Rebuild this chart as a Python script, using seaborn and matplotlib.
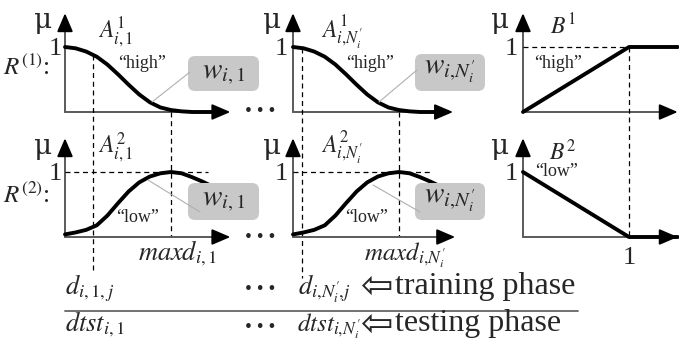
import matplotlib
matplotlib.use("Agg")
import matplotlib.pyplot as plt
import seaborn as sns
from matplotlib.patches import FancyBboxPatch

# membership functions (x in units of maxd, y = mu)
high_x = [0, 0.1, 0.2, 0.3, 0.4, 0.5, 0.6, 0.7, 0.8, 0.9, 1.0, 1.1, 1.2]
high_y = [1.0, 0.98, 0.93, 0.85, 0.73, 0.58, 0.42, 0.27, 0.15, 0.07, 0.03, 0.01, 0.0]
low_x = [0, 0.1, 0.2, 0.3, 0.4, 0.5, 0.6, 0.7, 0.8, 0.9, 1.0, 1.1, 1.2, 1.3, 1.4, 1.5]
low_y = [0.04, 0.07, 0.11, 0.18, 0.33, 0.52, 0.70, 0.84, 0.93, 0.98, 1.0, 0.98, 0.92, 0.85, 0.77, 0.70]
# output sets
b_x = [0, 1, 1.46]
b1_y = [0, 1, 1]
b2_y = [1, 0, 0]

sns.set_theme(style="white")
plt.rcParams["font.family"] = ["Liberation Serif", "DejaVu Sans"]
plt.rcParams["mathtext.fontset"] = "stix"

W, H = 679, 343
SX, SY = 106, 65
fig = plt.figure(figsize=(W / 100, H / 100), dpi=100)

AX_GRAY = "#5a5a5a"
DASH = dict(color="black", lw=0.9, ls=(0, (4, 3)), clip_on=False)


def panel(ox, oy, tip):
    x0, x1, y0, y1 = -0.6, 1.75, -0.6, 1.75
    left = (ox + x0 * SX) / W
    bottom = 1 - (oy - y0 * SY) / H
    ax = fig.add_axes([left, bottom, (x1 - x0) * SX / W, (y1 - y0) * SY / H])
    ax.set_xlim(x0, x1)
    ax.set_ylim(y0, y1)
    ax.patch.set_alpha(0)
    # axes with arrow heads
    ax.plot([0, tip - 0.1], [0, 0], color=AX_GRAY, lw=1.4, clip_on=False)
    ax.plot([0, 0], [0, 1.4], color=AX_GRAY, lw=1.4, clip_on=False)
    hs = dict(arrowstyle="-|>,head_length=0.7,head_width=0.3", color="black",
              lw=1.4, mutation_scale=16, shrinkA=0, shrinkB=0)
    ax.annotate("", xy=(tip, 0), xytext=(tip - 0.15, 0), arrowprops=hs)
    ax.annotate("", xy=(0, 1.52), xytext=(0, 1.3), arrowprops=hs)
    return ax


def draw_curve(ax, x, y):
    sns.lineplot(x=x, y=y, ax=ax, color="black", lw=2.8, estimator=None, sort=False)
    ax.axis("off")


# top row
ax1 = panel(65, 112, 1.56)
draw_curve(ax1, high_x + [1.5], high_y + [0.0])
ax1.plot([0.26, 0.26], [0.88, -2.48], **DASH)
ax1.plot([1.0, 1.0], [0.0, -1.92], **DASH)

ax2 = panel(293, 112, 1.51)
draw_curve(ax2, high_x + [1.45], high_y + [0.0])
ax2.plot([0.085, 0.085], [0.98, -2.55], **DASH)
ax2.plot([1.0, 1.0], [0.0, -1.92], **DASH)

ax3 = panel(523, 112, 1.46)
draw_curve(ax3, b_x, b1_y)
ax3.plot([0, 1], [1, 1], **DASH)
ax3.plot([1, 1], [1, -1.92], **DASH)

# bottom row
ax4 = panel(65, 237, 1.56)
draw_curve(ax4, low_x, low_y)
ax4.plot([0, 1.35], [1, 1], **DASH)

ax5 = panel(293, 237, 1.53)
draw_curve(ax5, low_x, low_y)
ax5.plot([0, 1.29], [1, 1], **DASH)

ax6 = panel(523, 237, 1.46)
draw_curve(ax6, b_x, b2_y)

# overlay in pixel coordinates for labels, weight boxes and the phase rows
ov = fig.add_axes([0, 0, 1, 1])
ov.set_xlim(0, W)
ov.set_ylim(H, 0)
ov.axis("off")
ov.patch.set_alpha(0)

for x, y in [(43, 21), (272, 21), (500, 21), (43, 146), (272, 146), (500, 146)]:
    ov.text(x, y, "μ", fontsize=20, ha="center", va="center", family="DejaVu Serif")
for x, y in [(55, 49), (281, 49), (511, 49), (55, 174), (281, 174), (511, 174), (629, 258)]:
    ov.text(x, y, "1", fontsize=19, ha="center", va="center")

ov.text(50, 75, r"$R^{(1)}$:", fontsize=18, ha="right", va="baseline")
ov.text(50, 203, r"$R^{(2)}$:", fontsize=18, ha="right", va="baseline")

ov.text(116, 33, r"$A^{1}_{i,1}$", fontsize=17, ha="center", va="center")
ov.text(342, 33, r"$A^{1}_{i,\!N_i^{\prime}}$", fontsize=17, ha="center", va="center")
ov.text(116, 148, r"$A^{2}_{i,1}$", fontsize=17, ha="center", va="center")
ov.text(342, 148, r"$A^{2}_{i,\!N_i^{\prime}}$", fontsize=17, ha="center", va="center")
ov.text(563, 27, r"$B^{1}$", fontsize=17, ha="center", va="center")
ov.text(563, 152, r"$B^{2}$", fontsize=17, ha="center", va="center")

for x, y, s in [(142, 63, "high"), (370, 63, "high"), (558, 63, "high"),
                (138, 218, "low"), (367, 218, "low"), (557, 172, "low")]:
    ov.text(x, y, "\u201c" + s + "\u201d", fontsize=13, ha="center", va="center")

# connectors then boxes
for xa, ya, xb, yb in [(152, 102, 190, 72), (379, 102, 417, 70),
                       (148, 180, 200, 212), (373, 185, 420, 212)]:
    ov.plot([xa, xb], [ya, yb], color="#b0b0b0", lw=0.8)

for x, y, w, h, lab in [(188, 56, 71, 35, r"$w_{i,1}$"),
                        (415, 54, 70, 37, r"$w_{i,\!N_i^{\prime}}$"),
                        (188, 183, 71, 37, r"$w_{i,1}$"),
                        (415, 183, 70, 37, r"$w_{i,\!N_i^{\prime}}$")]:
    ov.add_patch(FancyBboxPatch((x, y), w, h, boxstyle="round,pad=0,rounding_size=7",
                                fc="#c8c8c8", ec="none"))
    ov.text(x + w / 2, y + h / 2, lab, fontsize=21, ha="center", va="center")

for y in [112, 237, 290, 327]:
    ov.text(260, y, "\u2022 \u2022 \u2022", fontsize=14, ha="center", va="center")

ov.text(177, 260, r"$maxd_{i,1}$", fontsize=19, ha="center", va="baseline")
ov.text(405, 260, r"$maxd_{i,\!N_i^{\prime}}$", fontsize=18, ha="center", va="baseline")

ov.text(65, 294, r"$d_{i,1,j}$", fontsize=19, ha="left", va="baseline")
ov.text(298, 294, r"$d_{i,\!N_i^{\prime}\!,\!j}$", fontsize=19, ha="left", va="baseline")
ov.text(65, 331, r"$dtst_{i,1}$", fontsize=19, ha="left", va="baseline")
ov.text(297, 331, r"$dtst_{i,\!N_i^{\prime}}$", fontsize=18, ha="left", va="baseline")

for y in [287, 325]:
    ov.text(377, y, "\u21e6", fontsize=28, ha="center", va="center", family="DejaVu Sans")
ov.text(395, 294, "training phase", fontsize=23, ha="left", va="baseline")
ov.text(395, 331, "testing phase", fontsize=23, ha="left", va="baseline")
ov.plot([65, 578], [311, 311], color="#666666", lw=1.3)

fig.savefig("out.png", dpi=100)
